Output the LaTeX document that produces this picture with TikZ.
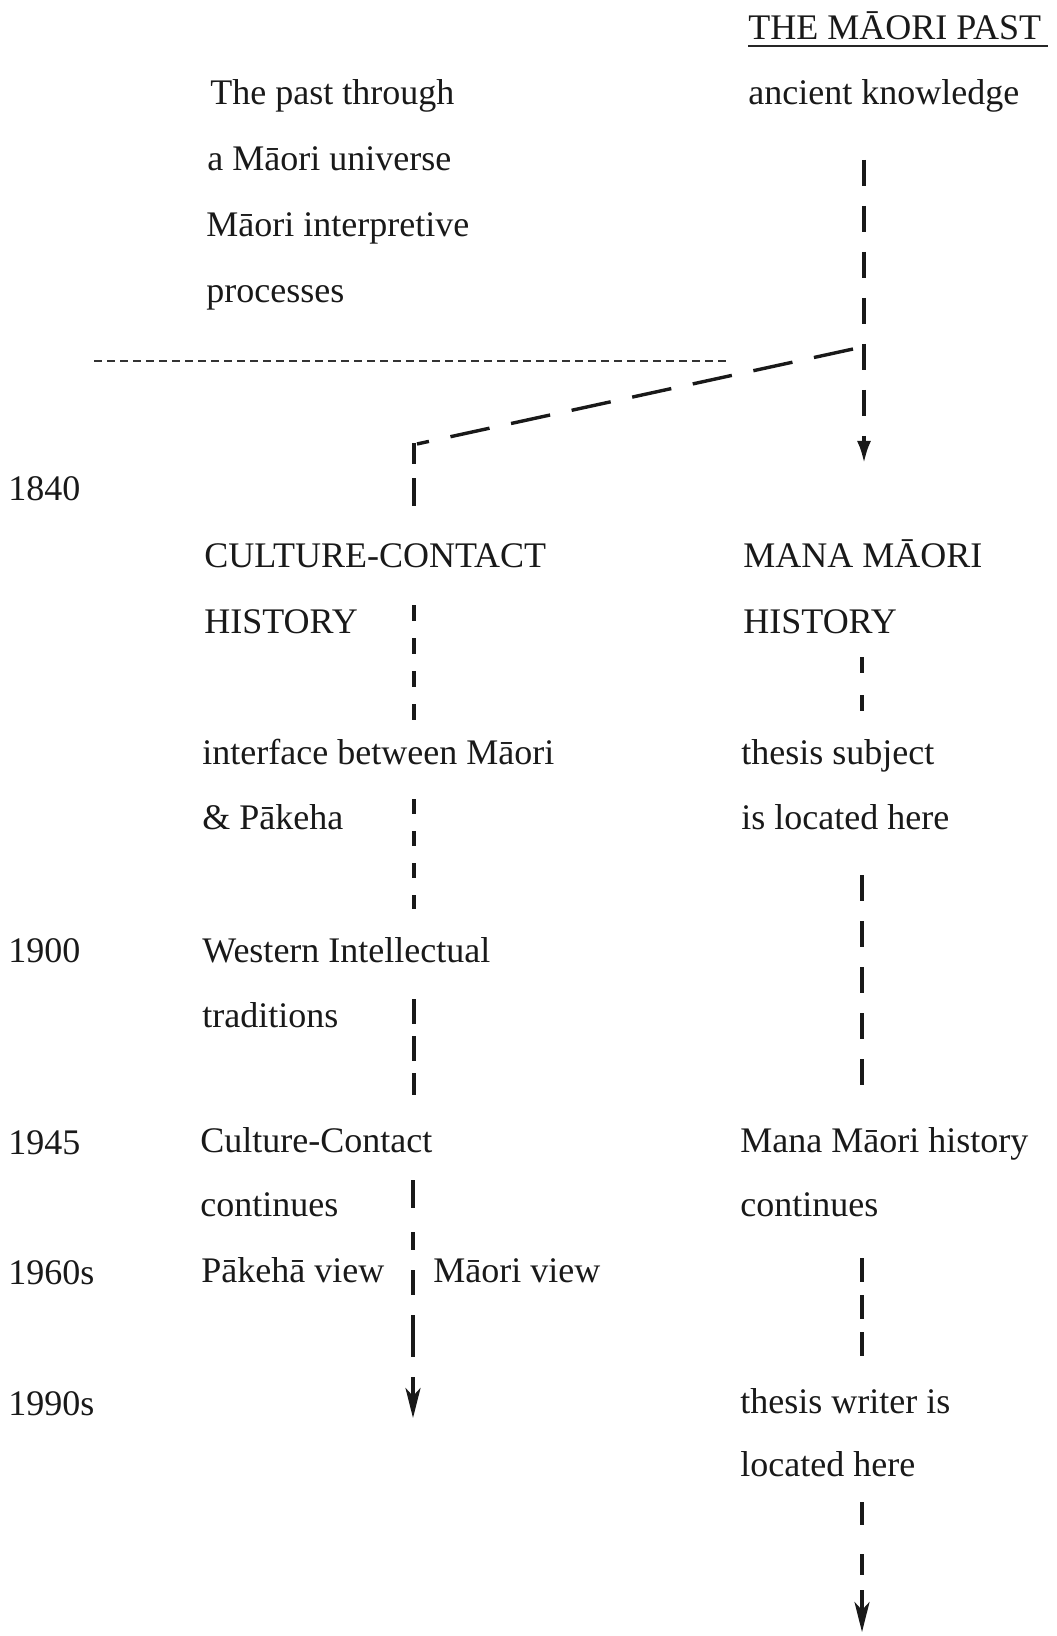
\documentclass[tikz,border=0pt]{standalone}
\usepackage{fontspec}
\setmainfont{Liberation Serif}
\usetikzlibrary{arrows.meta}
\tikzset{
  lbl/.style={anchor=base west, inner sep=0pt, font=\fontsize{18}{20}\selectfont, text=black!90},
  dl/.style={line width=1.7pt, draw=black!90},
  tip/.style={-{Latex[length=11pt,width=7pt]}},
  stip/.style={-{Stealth[length=15pt,width=7.5pt,inset=4pt]}},
}
\begin{document}
\begin{tikzpicture}[x=0.5pt,y=-0.5pt]
\useasboundingbox (0,0) rectangle (1056,1636);
% top right
\node[lbl] (past) at (748,40) {THE MĀORI PAST};
\draw[line width=1.1pt, draw=black!85] ([yshift=-3pt]past.base west) -- ([yshift=-3pt,xshift=3pt]past.base east);
\node[lbl] (ak) at (748,105) {ancient knowledge};
% top left
\node[lbl] (t1) at (210,105) {The past through};
\node[lbl] (t2) at (207,171) {a Māori universe};
\node[lbl] (t3) at (206,237) {Māori interpretive};
\node[lbl] (t4) at (206,303) {processes};
% years
\node[lbl] (y1840) at (8,500) {1840};
\node[lbl] (y1900) at (8,962) {1900};
\node[lbl] (y1945) at (8,1154) {1945};
\node[lbl] (y1960) at (8,1284) {1960s};
\node[lbl] (y1990) at (8,1415) {1990s};
% middle column
\node[lbl] (cc1) at (204,567) {CULTURE-CONTACT};
\node[lbl] (cc2) at (204,633) {HISTORY};
\node[lbl] (if1) at (202,764) {interface between Māori};
\node[lbl] (if2) at (202,829) {\& Pākeha};
\node[lbl] (wi1) at (202,962) {Western Intellectual};
\node[lbl] (wi2) at (202,1027) {traditions};
\node[lbl] (cc3) at (200,1152) {Culture-Contact};
\node[lbl] (cc4) at (200,1216) {continues};
\node[lbl] (pv) at (201,1282) {Pākehā view};
\node[lbl] (mv) at (433,1282) {Māori view};
% right column
\node[lbl] (mm1) at (743,567) {MANA MĀORI};
\node[lbl] (mm2) at (743,633) {HISTORY};
\node[lbl] (ts1) at (741,764) {thesis subject};
\node[lbl] (ts2) at (741,829) {is located here};
\node[lbl] (mh1) at (740,1152) {Mana Māori history};
\node[lbl] (mh2) at (740,1216) {continues};
\node[lbl] (tw1) at (740,1413) {thesis writer is};
\node[lbl] (tw2) at (740,1476) {located here};
% coordinates
\coordinate (h1) at (94,361);
\coordinate (h2) at (727,361);
\coordinate (r1s) at (864,160);
\coordinate (r1e) at (864,463);
\coordinate (ds) at (853,349);
\coordinate (de) at (417,444);
\coordinate (l1s) at (414,443);
\coordinate (l1e) at (414,506);
\coordinate (l2s) at (414,605);
\coordinate (l2e) at (414,722);
\coordinate (l3s) at (414,799);
\coordinate (l3e) at (414,909);
\coordinate (l4s) at (414,999);
\coordinate (l4e) at (414,1095);
\coordinate (l5s) at (413,1180);
\coordinate (l5e) at (413,1418);
\coordinate (r2s) at (862,657);
\coordinate (r2e) at (862,713);
\coordinate (r3s) at (862,875);
\coordinate (r3e) at (862,1085);
\coordinate (r4s) at (862,1258);
\coordinate (r4e) at (862,1356);
\coordinate (r5s) at (862,1502);
\coordinate (r5e) at (862,1632);
% connectors
\draw[line width=1.1pt, draw=black!80, dash pattern=on 4pt off 2.5pt] (h1) -- (h2);
\draw[dl, tip, dash pattern=on 13pt off 10pt] (r1s) -- (r1e);
\draw[dl, dash pattern=on 20pt off 11pt] (ds) -- (de);
\draw[dl, dash pattern=on 10.5pt off 7pt on 14pt off 7pt] (l1s) -- (l1e);
\draw[dl, dash pattern=on 8pt off 8.5pt] (l2s) -- (l2e);
\draw[dl, dash pattern=on 7.5pt off 8.5pt] (l3s) -- (l3e);
\draw[dl, dash pattern=on 12.5pt off 6pt] (l4s) -- (l4e);
\draw[dl, stip, dash pattern=on 14pt off 12pt on 9pt off 10pt on 12.5pt off 10pt on 21pt off 10pt] (l5s) -- (l5e);
\draw[dl, dash pattern=on 8pt off 11pt] (r2s) -- (r2e);
\draw[dl, dash pattern=on 13pt off 10pt] (r3s) -- (r3e);
\draw[dl, dash pattern=on 12pt off 6.5pt] (r4s) -- (r4e);
\draw[dl, stip, dash pattern=on 11.5pt off 14.5pt on 10.5pt off 7.5pt] (r5s) -- (r5e);
\end{tikzpicture}
\end{document}
